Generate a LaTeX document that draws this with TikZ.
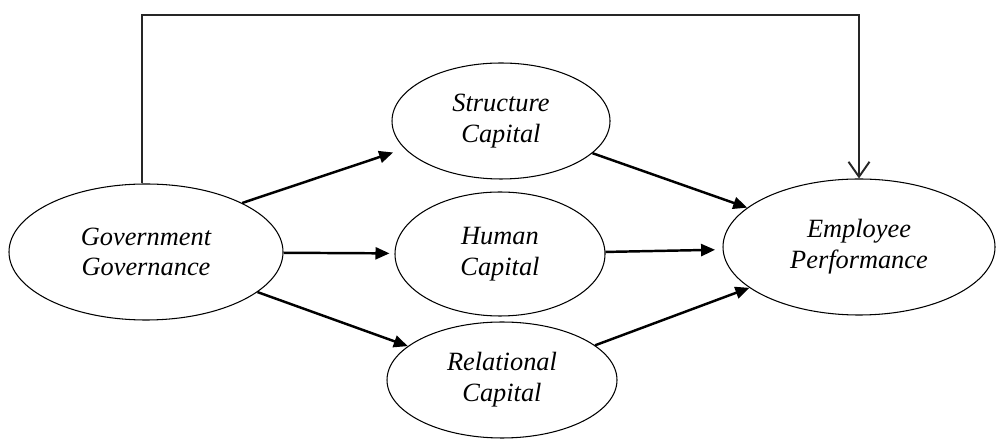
\documentclass[tikz,border=0pt]{standalone}
\usepackage{fontspec}
\setmainfont{Liberation Serif}
\usetikzlibrary{shapes.geometric}
\usetikzlibrary{arrows.meta}

\begin{document}
\begin{tikzpicture}[
  construct/.style={ellipse,draw,line width=0.6pt,align=center,inner sep=0pt,font=\itshape\fontsize{15}{17.5}\selectfont},
  link/.style={-{Triangle[length=0.28cm,width=0.24cm]},line width=1.4pt},
  direct/.style={-{Straight Barb[length=0.3cm,width=0.42cm,line width=1.1pt]},line width=0.9pt,black!85}]
\useasboundingbox (0,0) rectangle (19.92,8.78);

\node[construct,minimum width=5.48cm,minimum height=2.72cm] (gov) at (2.92,3.74) {Government\\Governance};
\node[construct,minimum width=4.36cm,minimum height=2.32cm] (sc) at (10.02,6.36) {Structure\\Capital};
\node[construct,minimum width=4.2cm,minimum height=2.48cm] (hc) at (10.00,3.70) {Human\\Capital};
\node[construct,minimum width=4.6cm,minimum height=2.32cm] (rc) at (10.04,1.18) {Relational\\Capital};
\node[construct,minimum width=5.44cm,minimum height=2.72cm] (emp) at (17.18,3.84) {Employee\\Performance};

\draw[link,shorten >=0.24cm] (gov.27) -- (sc.196);
\draw[link,shorten >=0.1cm] (gov) -- (hc);
\draw[link] (gov) -- (rc);
\draw[link] (sc) -- (emp);
\draw[link,shorten >=0.15cm] (hc) -- (emp);
\draw[link] (rc) -- (emp);

\coordinate (bend) at (2.84,8.48);
\draw[direct] (bend |- gov.north) -- (bend) -| (emp.north);

\end{tikzpicture}
\end{document}
